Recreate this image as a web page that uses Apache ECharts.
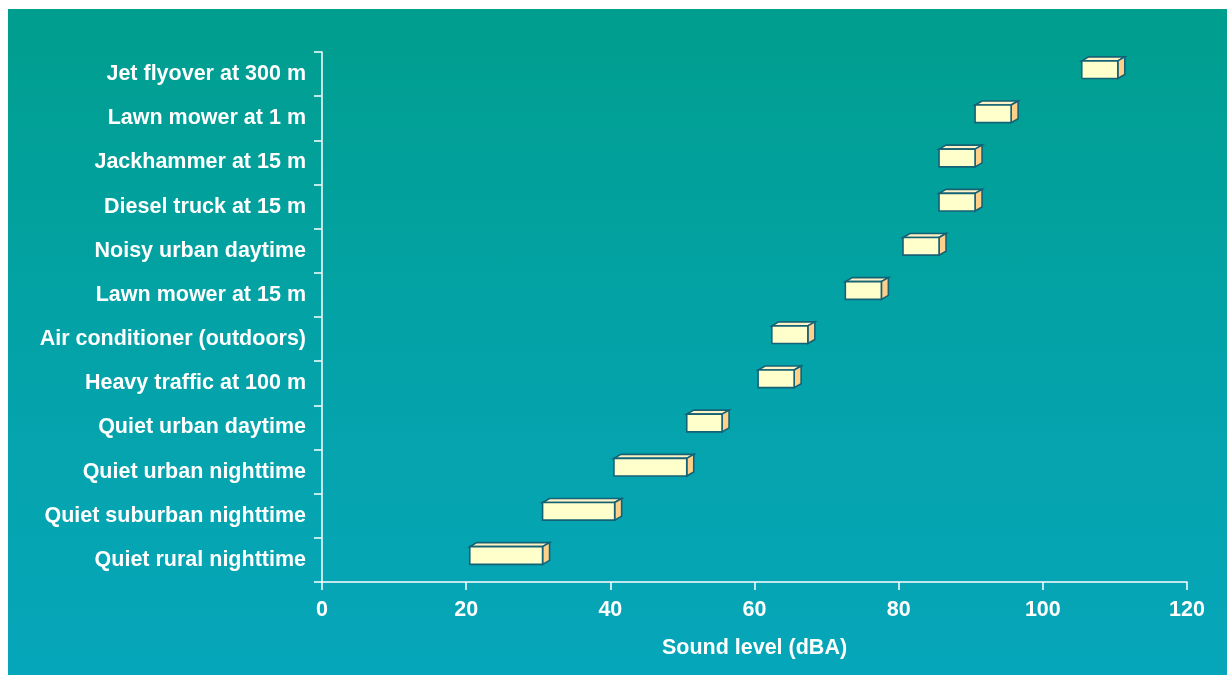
<!DOCTYPE html>
<html>
<head>
<meta charset="utf-8">
<script src="https://cdn.jsdelivr.net/npm/echarts@6/dist/echarts.min.js"></script>
<style>
html,body{margin:0;padding:0;background:#ffffff;width:1227px;height:675px;overflow:hidden;}
#bg{position:absolute;left:8px;top:9px;right:0;bottom:0;background:linear-gradient(to bottom,#009e8e 0%,#04a3aa 55%,#06a6ba 100%);}
#chart{position:absolute;left:0;top:0;width:1227px;height:675px;}
</style>
</head>
<body>
<div id="bg"></div>
<div id="chart"></div>
<script>
const categories = [
  'Quiet rural nighttime',
  'Quiet suburban nighttime',
  'Quiet urban nighttime',
  'Quiet urban daytime',
  'Heavy traffic at 100 m',
  'Air conditioner (outdoors)',
  'Lawn mower at 15 m',
  'Noisy urban daytime',
  'Diesel truck at 15 m',
  'Jackhammer at 15 m',
  'Lawn mower at 1 m',
  'Jet flyover at 300 m'
];
const lowValues  = [20.5, 30.6, 40.5, 50.6, 60.5, 62.4, 72.6, 80.6, 85.6, 85.6, 90.6, 105.4];
const highValues = [30.6, 40.6, 50.6, 55.5, 65.5, 67.4, 77.6, 85.6, 90.6, 90.6, 95.6, 110.4];
const xTicks = [0, 20, 40, 60, 80, 100, 120];

const data = categories.map((c, i) => [lowValues[i], highValues[i], i]);

const chart = echarts.init(document.getElementById('chart'), null, {renderer: 'canvas'});
const font = '"Liberation Sans", Arial, sans-serif';
const fs = 21.5;

function renderBox(params, api) {
  const lo = api.value(0), hi = api.value(1), idx = api.value(2);
  const p0 = api.coord([lo, idx]);
  const p1 = api.coord([hi, idx]);
  const band = api.size([0, 1])[1];
  const h = band * 0.40;
  const top = p0[1] - band * 0.30;
  const x0 = p0[0], x1 = p1[0];
  const dx = 7, dy = 4;
  const stroke = '#146276';
  const lw = 1.6;
  return {
    type: 'group',
    children: [
      { type: 'polygon', shape: { points: [[x0, top], [x0 + dx, top - dy], [x1 + dx, top - dy], [x1, top]] },
        style: { fill: '#fff2c4', stroke: stroke, lineWidth: lw } },
      { type: 'polygon', shape: { points: [[x1, top], [x1 + dx, top - dy], [x1 + dx, top + h - dy], [x1, top + h]] },
        style: { fill: '#ffd08a', stroke: stroke, lineWidth: lw } },
      { type: 'rect', shape: { x: x0, y: top, width: x1 - x0, height: h },
        style: { fill: '#ffffcc', stroke: stroke, lineWidth: lw } }
    ]
  };
}

chart.setOption({
  backgroundColor: 'transparent',
  animation: false,
  grid: { left: 322, right: 40, top: 52, bottom: 93, containLabel: false },
  xAxis: {
    type: 'value', min: xTicks[0], max: xTicks[xTicks.length - 1], interval: 20,
    name: 'Sound level (dBA)', nameLocation: 'middle', nameGap: 55,
    nameTextStyle: { color: '#ffffff', fontSize: fs, fontWeight: 'bold', fontFamily: font },
    axisLine: { show: true, lineStyle: { color: '#ffffff', width: 1.5 } },
    axisTick: { show: true, length: 8, lineStyle: { color: '#ffffff', width: 1.5 } },
    axisLabel: { color: '#ffffff', fontSize: fs, fontWeight: 'bold', fontFamily: font, margin: 17 },
    splitLine: { show: false }
  },
  yAxis: {
    type: 'category', data: categories,
    axisLine: { show: true, lineStyle: { color: '#ffffff', width: 1.5 } },
    axisTick: { show: true, length: 8, alignWithLabel: false, lineStyle: { color: '#ffffff', width: 1.5 } },
    axisLabel: { color: '#ffffff', fontSize: fs, fontWeight: 'bold', fontFamily: font, margin: 16 },
    splitLine: { show: false }
  },
  series: [{
    type: 'custom',
    renderItem: renderBox,
    encode: { x: [0, 1], y: 2 },
    data: data,
    clip: false
  }]
});
</script>
</body>
</html>
